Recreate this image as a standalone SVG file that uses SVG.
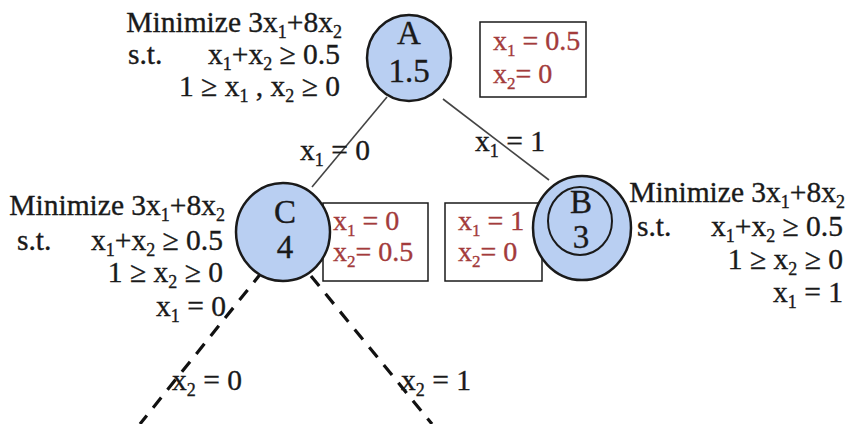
<svg xmlns="http://www.w3.org/2000/svg" width="850" height="424" viewBox="0 0 850 424">
<defs>
<style>
.t{font-size:29.5px;fill:#1a1a1a;stroke:#1a1a1a;stroke-width:0.35}
.s{font-size:18px}
.r{fill:#a33b3b;stroke:#a33b3b;font-size:28px}
.r .s{font-size:17px}
.e{text-anchor:end}
.m{text-anchor:middle;font-size:33px;fill:#1a1a1a;stroke:#1a1a1a;stroke-width:0.35}
.node{fill:#b9cff2;stroke:#1a1a1a;stroke-width:2.5}
.box{fill:#fff;stroke:#1a1a1a;stroke-width:1.5}
.solid{stroke:#444;stroke-width:1.6;fill:none}
.dash{stroke:#111;stroke-width:3.2;stroke-dasharray:13 10;fill:none}
</style>
</defs>
<rect width="850" height="424" fill="#fff"/>
<g id="connectors">
<line class="solid" x1="387" y1="97" x2="312" y2="187"/>
<line class="solid" x1="443" y1="99" x2="549" y2="180"/>
<line class="dash" x1="262" y1="272" x2="140" y2="424"/>
<line class="dash" x1="311" y1="276" x2="432" y2="424"/>
</g>
<g id="labels">
<text font-family="Liberation Serif" class="t" x="300" y="160">x<tspan class="s" dy="6">1</tspan><tspan dy="-6"> = 0</tspan></text>
<text font-family="Liberation Serif" class="t" x="475" y="151">x<tspan class="s" dy="6">1</tspan><tspan dy="-6"> = 1</tspan></text>
<text font-family="Liberation Serif" class="t" x="172" y="390">x<tspan class="s" dy="6">2</tspan><tspan dy="-6"> = 0</tspan></text>
<text font-family="Liberation Serif" class="t" x="401" y="390">x<tspan class="s" dy="6">2</tspan><tspan dy="-6"> = 1</tspan></text>
</g>
<g id="constraintsA">
<text font-family="Liberation Serif" class="t e" x="342" y="32">Minimize 3x<tspan class="s" dy="6">1</tspan><tspan dy="-6">+8x</tspan><tspan class="s" dy="6">2</tspan></text>
<text font-family="Liberation Serif" class="t" x="128" y="64">s.t.</text>
<text font-family="Liberation Serif" class="t e" x="340" y="64">x<tspan class="s" dy="6">1</tspan><tspan dy="-6">+x</tspan><tspan class="s" dy="6">2</tspan><tspan dy="-6"> ≥ 0.5</tspan></text>
<text font-family="Liberation Serif" class="t e" x="340" y="96">1 ≥ x<tspan class="s" dy="6">1</tspan><tspan dy="-6"> , x</tspan><tspan class="s" dy="6">2</tspan><tspan dy="-6"> ≥ 0</tspan></text>
</g>
<g id="constraintsC">
<text font-family="Liberation Serif" class="t e" x="225" y="215">Minimize 3x<tspan class="s" dy="6">1</tspan><tspan dy="-6">+8x</tspan><tspan class="s" dy="6">2</tspan></text>
<text font-family="Liberation Serif" class="t" x="17" y="250">s.t.</text>
<text font-family="Liberation Serif" class="t e" x="223" y="250">x<tspan class="s" dy="6">1</tspan><tspan dy="-6">+x</tspan><tspan class="s" dy="6">2</tspan><tspan dy="-6"> ≥ 0.5</tspan></text>
<text font-family="Liberation Serif" class="t e" x="223" y="282">1 ≥ x<tspan class="s" dy="6">2</tspan><tspan dy="-6"> ≥ 0</tspan></text>
<text font-family="Liberation Serif" class="t e" x="226" y="316">x<tspan class="s" dy="6">1</tspan><tspan dy="-6"> = 0</tspan></text>
</g>
<g id="constraintsB">
<text font-family="Liberation Serif" class="t e" x="845" y="202">Minimize 3x<tspan class="s" dy="6">1</tspan><tspan dy="-6">+8x</tspan><tspan class="s" dy="6">2</tspan></text>
<text font-family="Liberation Serif" class="t" x="637" y="236">s.t.</text>
<text font-family="Liberation Serif" class="t e" x="843" y="236">x<tspan class="s" dy="6">1</tspan><tspan dy="-6">+x</tspan><tspan class="s" dy="6">2</tspan><tspan dy="-6"> ≥ 0.5</tspan></text>
<text font-family="Liberation Serif" class="t e" x="843" y="269">1 ≥ x<tspan class="s" dy="6">2</tspan><tspan dy="-6"> ≥ 0</tspan></text>
<text font-family="Liberation Serif" class="t e" x="843" y="302">x<tspan class="s" dy="6">1</tspan><tspan dy="-6"> = 1</tspan></text>
</g>
<g id="boxA">
<rect class="box" x="480" y="22" width="106" height="75"/>
<text font-family="Liberation Serif" class="t r" x="493" y="50">x<tspan class="s" dy="6">1</tspan><tspan dy="-6"> = 0.5</tspan></text>
<text font-family="Liberation Serif" class="t r" x="493" y="83">x<tspan class="s" dy="6">2</tspan><tspan dy="-6">= 0</tspan></text>
</g>
<g id="boxC-rect"><rect class="box" x="323" y="203" width="105" height="78"/></g>
<g id="boxB-rect"><rect class="box" x="445" y="203" width="97" height="78"/></g>
<g id="nodeA">
<ellipse class="node" cx="409" cy="58" rx="42" ry="43"/>
<text font-family="Liberation Serif" class="m" x="409" y="44">A</text>
<text font-family="Liberation Serif" class="m" x="409" y="82">1.5</text>
</g>
<g id="nodeC">
<ellipse class="node" cx="283" cy="232" rx="47" ry="49"/>
<text font-family="Liberation Serif" class="m" x="285" y="223">C</text>
<text font-family="Liberation Serif" class="m" x="285" y="258">4</text>
</g>
<g id="nodeB">
<ellipse class="node" cx="582" cy="228" rx="49" ry="52"/>
<ellipse cx="580" cy="221" rx="32" ry="34" fill="none" stroke="#1a1a1a" stroke-width="2"/>
<text font-family="Liberation Serif" class="m" x="581" y="213">B</text>
<text font-family="Liberation Serif" class="m" x="581" y="248">3</text>
</g>
<g id="boxC">
<text font-family="Liberation Serif" class="t r" x="333" y="230">x<tspan class="s" dy="6">1</tspan><tspan dy="-6"> = 0</tspan></text>
<text font-family="Liberation Serif" class="t r" x="333" y="261">x<tspan class="s" dy="6">2</tspan><tspan dy="-6">= 0.5</tspan></text>
</g>
<g id="boxB">
<text font-family="Liberation Serif" class="t r" x="458" y="230">x<tspan class="s" dy="6">1</tspan><tspan dy="-6"> = 1</tspan></text>
<text font-family="Liberation Serif" class="t r" x="458" y="261">x<tspan class="s" dy="6">2</tspan><tspan dy="-6">= 0</tspan></text>
</g>
</svg>
